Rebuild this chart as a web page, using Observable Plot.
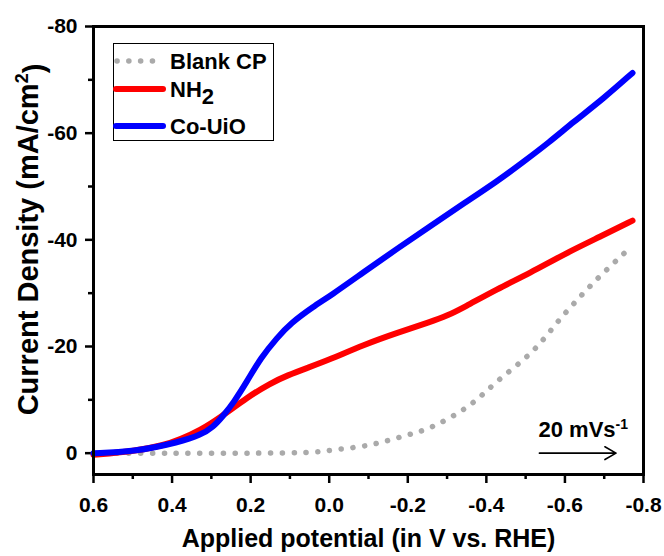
<!DOCTYPE html>
<html>
<head>
<meta charset="utf-8">
<script src="https://cdn.jsdelivr.net/npm/d3@7"></script>
<script src="https://cdn.jsdelivr.net/npm/@observablehq/plot@0.6"></script>
<style>
  html, body { margin: 0; padding: 0; background: white; }
  #wrap { position: relative; width: 664px; height: 556px; }
  #legend { position: absolute; left: 0; top: 0; pointer-events: none; }
</style>
</head>
<body>
<div id="wrap"></div>
<script>
// ---- data (potential in V vs. RHE, current density in mA/cm2) ----
const blankPotential = [0.60, 0.40, 0.20, 0.04, -0.01, -0.10, -0.18, -0.26, -0.35, -0.43, -0.52, -0.60, -0.68, -0.77];
const blankCurrent   = [0.0, 0.0, 0.0, -0.2, -0.6, -1.5, -3.0, -4.9, -8.6, -13.6, -19.3, -26.2, -32.5, -38.8];

const nh2Potential = [0.60, 0.50, 0.42, 0.379, 0.328, 0.277, 0.208, 0.150, 0.106, 0.055, -0.003, -0.087, -0.174, -0.258, -0.301, -0.342, -0.428, -0.512, -0.60, -0.69, -0.772];
const nh2Current   = [0.3, -0.3, -1.5, -2.6, -4.3, -6.7, -10.5, -13.1, -14.6, -16.0, -17.6, -20.3, -22.6, -24.6, -25.8, -27.3, -30.8, -33.8, -37.4, -40.6, -43.6];

const coPotential = [0.60, 0.50, 0.379, 0.328, 0.295, 0.269, 0.244, 0.208, 0.175, 0.132, 0.099, 0.040, -0.003, -0.087, -0.174, -0.258, -0.342, -0.428, -0.494, -0.56, -0.62, -0.70, -0.772];
const coCurrent   = [0.0, -0.2, -2.1, -3.4, -4.9, -7.1, -9.4, -13.6, -17.8, -21.7, -24.3, -27.5, -29.5, -33.9, -38.4, -42.6, -46.8, -51.0, -54.6, -58.3, -62.0, -66.6, -71.3];

const seriesNames  = ["Blank CP", "NH2", "Co-UiO"];
const seriesColors = ["#aaaaaa", "#ff0000", "#0000ff"];

const xMajorTicks = [0.6, 0.4, 0.2, 0.0, -0.2, -0.4, -0.6, -0.8];
const xMinorTicks = [0.5, 0.3, 0.1, -0.1, -0.3, -0.5, -0.7];
const yMajorTicks = [-80, -60, -40, -20, 0];
const yMinorTicks = [-70, -50, -30, -10];

const xTitle = "Applied potential (in V vs. RHE)";
const yTitle = "Current Density (mA/cm";
const scanRateText = "20 mVs";
const scanArrow = [{x1: -0.535, x2: -0.73, y: 0}];

// ---- build tables ----
const toRows = (xs, ys) => xs.map((x, i) => ({x, y: ys[i]}));
const blank = toRows(blankPotential, blankCurrent);
const nh2 = toRows(nh2Potential, nh2Current);
const co = toRows(coPotential, coCurrent);

const font = "'Liberation Sans', Arial, sans-serif";

const chart = Plot.plot({
  width: 664,
  height: 556,
  marginLeft: 93,
  marginRight: 21,
  marginTop: 26,
  marginBottom: 82,
  x: {domain: [0.6, -0.8]},
  y: {domain: [4, -80]},
  style: {fontFamily: font, fontWeight: "bold", background: "white", color: "black", overflow: "visible"},
  marks: [
    Plot.axisX({ticks: xMajorTicks, tickSize: 9, tickPadding: 14, strokeWidth: 2.5, fontSize: 21,
      tickFormat: d => d.toFixed(1), label: null}),
    Plot.axisX({ticks: xMinorTicks, tickSize: 5, strokeWidth: 2.5, tickFormat: () => "", label: null}),
    Plot.axisY({ticks: yMajorTicks, tickSize: 8, tickPadding: 8, strokeWidth: 2.5, fontSize: 21,
      tickFormat: d => String(d), label: null}),
    Plot.axisY({ticks: yMinorTicks, tickSize: 5, strokeWidth: 2.5, tickFormat: () => "", label: null}),
    Plot.line(blank, {x: "x", y: "y", stroke: seriesColors[0], strokeWidth: 5.5,
      strokeDasharray: "0.1 11.7", strokeLinecap: "round", curve: "catmull-rom"}),
    Plot.line(nh2, {x: "x", y: "y", stroke: seriesColors[1], strokeWidth: 6, strokeLinecap: "round", curve: "basis"}),
    Plot.line(co, {x: "x", y: "y", stroke: seriesColors[2], strokeWidth: 6, strokeLinecap: "round", curve: "basis"}),
    Plot.frame({stroke: "black", strokeWidth: 3}),
    Plot.arrow(scanArrow, {x1: "x1", x2: "x2", y1: "y", y2: "y", stroke: "black", strokeWidth: 1.6, headLength: 12}),
    Plot.text([scanRateText], {frameAnchor: "bottom-right", dx: -105, dy: -45, textAnchor: "start", lineAnchor: "middle", fontSize: 22, fill: "black"}),
    Plot.text([xTitle], {frameAnchor: "bottom", dy: 64, lineAnchor: "middle", textAnchor: "middle", fontSize: 25, fill: "black"}),
    Plot.text([yTitle], {frameAnchor: "left", dx: -65, dy: -11, rotate: -90, textAnchor: "middle", lineAnchor: "middle", fontSize: 29, fill: "black"})
  ]
});

// superscripts
d3.select(chart).selectAll("text").each(function () {
  const t = d3.select(this);
  const s = t.text();
  if (s === scanRateText) {
    t.append("tspan").attr("dy", "-0.55em").attr("font-size", 14).text("-1");
  } else if (s === yTitle) {
    t.append("tspan").attr("dy", "-0.55em").attr("font-size", 18).text("2");
    t.append("tspan").attr("dy", "0.55em").text(")");
  }
});

const wrap = document.getElementById("wrap");
wrap.appendChild(chart);

// ---- legend overlay ----
const lg = d3.select(wrap).append("svg").attr("id", "legend")
  .attr("width", 664).attr("height", 556)
  .style("font-family", font).style("font-weight", "bold");
lg.append("rect").attr("x", 113.5).attr("y", 43.5).attr("width", 160).attr("height", 97)
  .attr("fill", "white").attr("stroke", "black").attr("stroke-width", 1);
const rowsY = [61, 89, 126];
seriesNames.forEach((name, i) => {
  const yy = rowsY[i];
  const line = lg.append("line").attr("x1", i === 0 ? 117 : 116).attr("x2", i === 0 ? 153 : 163)
    .attr("y1", yy).attr("y2", yy).attr("stroke", seriesColors[i])
    .attr("stroke-width", i === 0 ? 5.5 : 6).attr("stroke-linecap", "round");
  if (i === 0) line.attr("stroke-dasharray", "0.1 11.7");
  const txt = lg.append("text").attr("x", 170).attr("y", yy + 8).attr("font-size", 22).attr("fill", "black");
  if (name === "NH2") {
    txt.text("NH");
    txt.append("tspan").attr("dy", "0.3em").attr("font-size", 22).text("2");
  } else {
    txt.text(name);
  }
});
</script>
</body>
</html>
